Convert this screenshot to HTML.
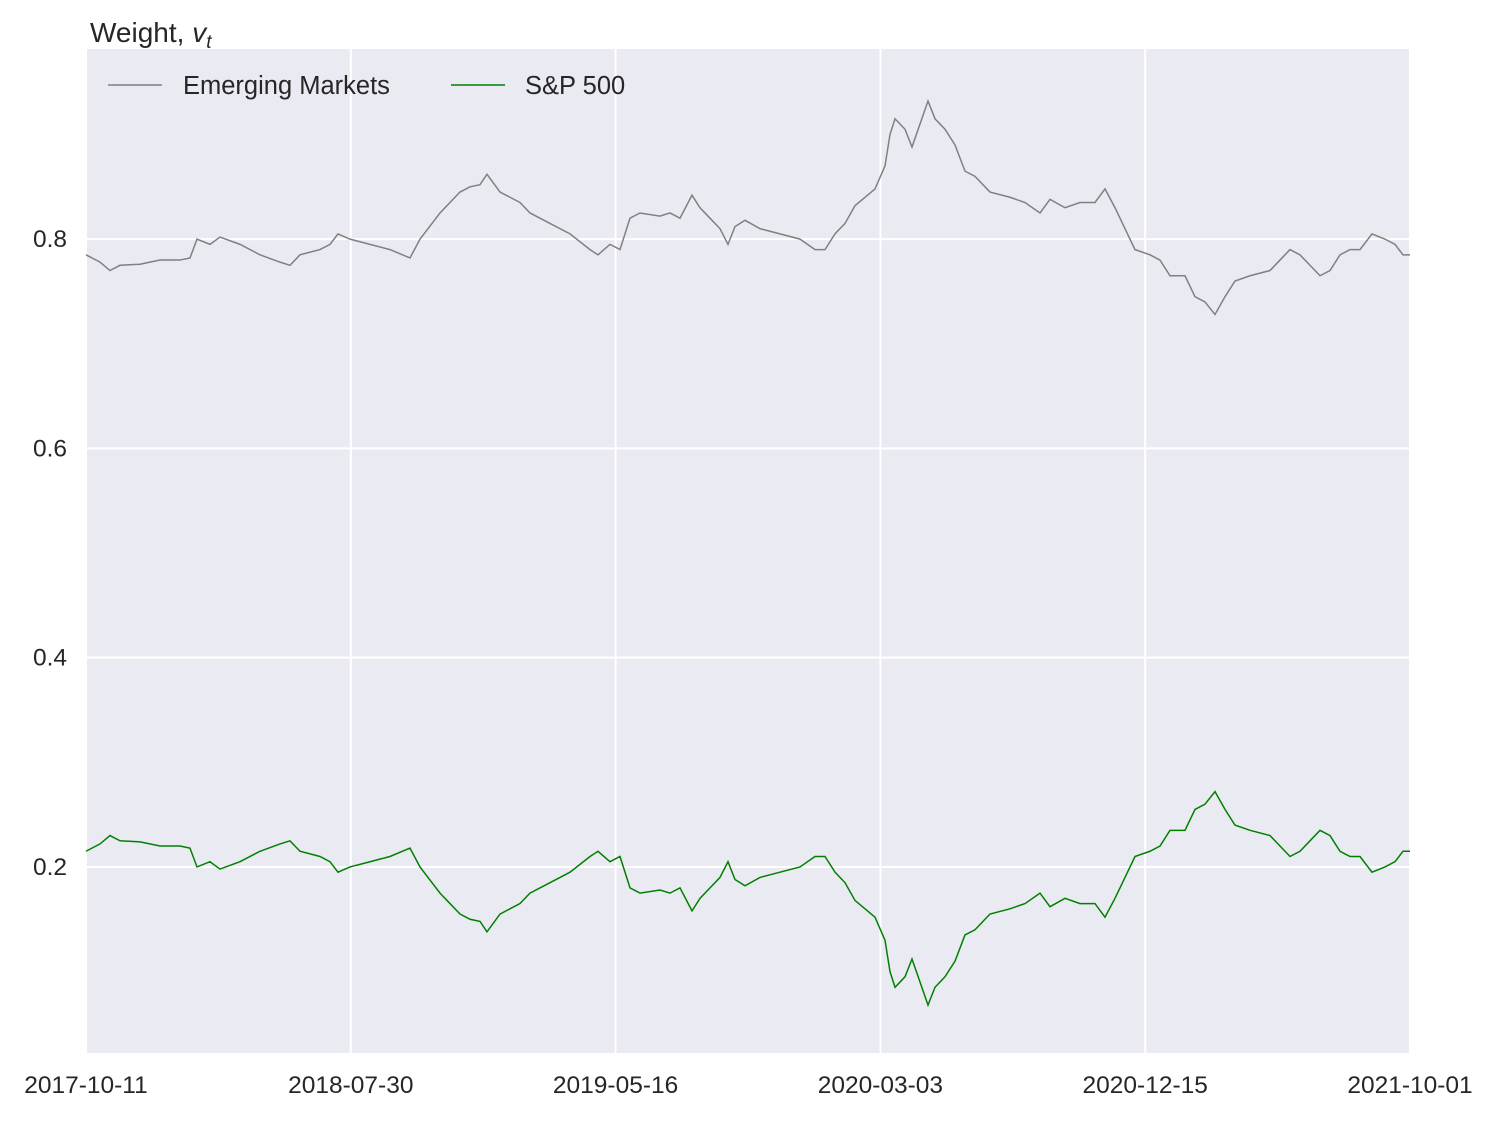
<!DOCTYPE html>
<html><head><meta charset="utf-8"><style>
body{margin:0;background:#fff;}
svg text{font-family:"Liberation Sans",sans-serif;fill:#262626;}
</style></head><body>
<svg id="chart" width="1497" height="1116">
<rect x="86" y="49" width="1324" height="1004" fill="#eaeaf2"/>
<g id="grid"></g><g id="lines"></g><g id="ticks"></g>
<text x="90" y="42" font-size="28">Weight, <tspan font-style="italic">v</tspan><tspan font-style="italic" font-size="19" dy="6">t</tspan></text>
<g>
<line x1="108" y1="85" x2="162" y2="85" stroke="#808080" stroke-width="1.5"/>
<text x="183" y="94" font-size="25.5">Emerging Markets</text>
<line x1="451" y1="85" x2="505" y2="85" stroke="#008000" stroke-width="1.5"/>
<text x="525" y="94" font-size="25.5">S&amp;P 500</text>
</g>
</svg>
<script>
const days=[0,14,24,34,54,74,94,104,111,124,134,154,174,194,204,214,234,244,252,264,284,304,324,334,354,364,374,384,394,401,414,424,434,444,464,484,504,512,524,534,544,554,574,584,594,606,614,624,634,642,649,659,674,694,714,729,739,749,759,769,779,789,799,804,809,819,826,834,842,849,859,869,879,889,904,924,939,954,964,979,994,1009,1019,1029,1039,1049,1064,1074,1084,1099,1109,1119,1129,1139,1149,1164,1184,1194,1204,1214,1224,1234,1244,1254,1264,1274,1286,1299,1309,1317,1324];
const em=[0.785,0.778,0.77,0.775,0.776,0.78,0.78,0.782,0.80,0.795,0.802,0.795,0.785,0.778,0.775,0.785,0.79,0.795,0.805,0.80,0.795,0.79,0.782,0.80,0.825,0.835,0.845,0.85,0.852,0.862,0.845,0.84,0.835,0.825,0.815,0.805,0.79,0.785,0.795,0.79,0.82,0.825,0.822,0.825,0.82,0.842,0.83,0.82,0.81,0.795,0.812,0.818,0.81,0.805,0.80,0.79,0.79,0.805,0.815,0.832,0.84,0.848,0.87,0.90,0.915,0.905,0.888,0.91,0.932,0.915,0.905,0.89,0.865,0.86,0.845,0.84,0.835,0.825,0.838,0.83,0.835,0.835,0.848,0.83,0.81,0.79,0.785,0.78,0.765,0.765,0.745,0.74,0.728,0.745,0.76,0.765,0.77,0.78,0.79,0.785,0.775,0.765,0.77,0.785,0.79,0.79,0.805,0.80,0.795,0.785,0.785];
const sp=[0.215,0.222,0.23,0.225,0.224,0.22,0.22,0.218,0.20,0.205,0.198,0.205,0.215,0.222,0.225,0.215,0.21,0.205,0.195,0.20,0.205,0.21,0.218,0.20,0.175,0.165,0.155,0.15,0.148,0.138,0.155,0.16,0.165,0.175,0.185,0.195,0.21,0.215,0.205,0.21,0.18,0.175,0.178,0.175,0.18,0.158,0.17,0.18,0.19,0.205,0.188,0.182,0.19,0.195,0.20,0.21,0.21,0.195,0.185,0.168,0.16,0.152,0.13,0.10,0.085,0.095,0.112,0.09,0.068,0.085,0.095,0.11,0.135,0.14,0.155,0.16,0.165,0.175,0.162,0.17,0.165,0.165,0.152,0.17,0.19,0.21,0.215,0.22,0.235,0.235,0.255,0.26,0.272,0.255,0.24,0.235,0.23,0.22,0.21,0.215,0.225,0.235,0.23,0.215,0.21,0.21,0.195,0.20,0.205,0.215,0.215];
const yTicks=[0.2,0.4,0.6,0.8];
const xTickLabels=["2017-10-11","2018-07-30","2019-05-16","2020-03-03","2020-12-15","2021-10-01"];
const xMax=1324;
const X0=86,X1=1410,Y0=49,Y1=1053,VMIN=0.0222,VMAX=0.9817;
const xs=d=>X0+d/xMax*(X1-X0);
const ys=v=>Y1-(v-VMIN)/(VMAX-VMIN)*(Y1-Y0);
const NS="http://www.w3.org/2000/svg";
const grid=document.getElementById('grid'),ticks=document.getElementById('ticks'),lines=document.getElementById('lines');
yTicks.forEach(v=>{
 const l=document.createElementNS(NS,'line');
 
 
 l.setAttribute('x1',X0);l.setAttribute('x2',X1);l.setAttribute('y1',ys(v));l.setAttribute('y2',ys(v));
 l.setAttribute('stroke','#fff');l.setAttribute('stroke-width','2');grid.appendChild(l);
 const t=document.createElementNS(NS,'text');
 
 
 t.setAttribute('x',67);t.setAttribute('y',ys(v)+8);t.setAttribute('text-anchor','end');t.setAttribute('font-size','24.5');
 t.textContent=v.toFixed(1);ticks.appendChild(t);
});
xTickLabels.forEach((s,i)=>{
 const d=i/(xTickLabels.length-1)*xMax;
 const l=document.createElementNS(NS,'line');
 
 
 l.setAttribute('x1',xs(d));l.setAttribute('x2',xs(d));l.setAttribute('y1',Y0);l.setAttribute('y2',Y1);
 l.setAttribute('stroke','#fff');l.setAttribute('stroke-width','2');grid.appendChild(l);
 const t=document.createElementNS(NS,'text');
 
 
 t.setAttribute('x',xs(d));t.setAttribute('y',1093);t.setAttribute('text-anchor','middle');t.setAttribute('font-size','24.5');
 t.textContent=s;ticks.appendChild(t);
});
function draw(vals,color,name){
 const p=document.createElementNS(NS,'polyline');
 
 
 p.setAttribute('points',vals.map((v,i)=>xs(days[i])+','+ys(v)).join(' '));
 p.setAttribute('fill','none');p.setAttribute('stroke',color);p.setAttribute('stroke-width','1.5');
 lines.appendChild(p);
}
draw(em,'#808080','emerging-markets-line');
draw(sp,'#008000','sp500-line');
</script>
</body></html>
